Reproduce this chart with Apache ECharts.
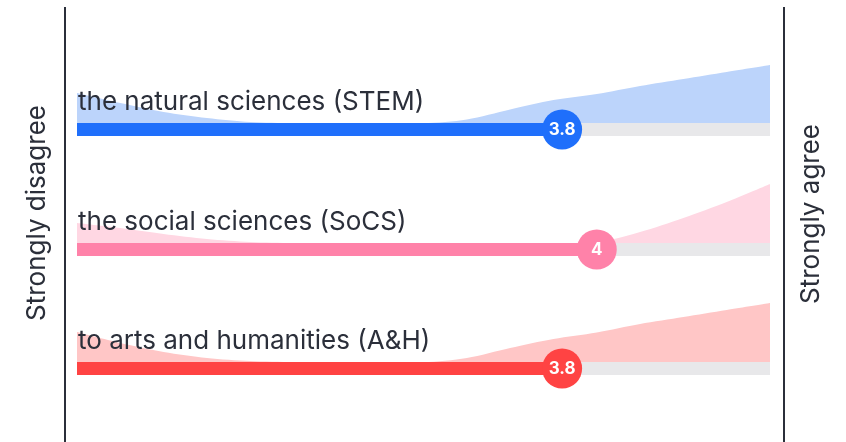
<!DOCTYPE html>
<html>
    <head>
        <meta charset="utf-8">
        <script src="https://cdn.jsdelivr.net/npm/echarts@6/dist/echarts.min.js"></script>
        <style>
            html, body { margin: 0; padding: 0; background: #fff; }
            #main { width: 846px; height: 442px; }
        </style>
    </head>
    <body>
        <div id="main"></div>
        <script>
            var chart = echarts.init(document.getElementById('main'));

            // answer scale 1 (strongly disagree) .. 5 (strongly agree)
            var scalePoints = [1, 1.25, 1.5, 1.75, 2, 2.25, 2.5, 2.75, 3, 3.25, 3.5, 3.75, 4, 4.25, 4.5, 4.75, 5];
            var categories = ['the natural sciences (STEM)', 'the social sciences (SoCS)', 'to arts and humanities (A&H)'];
            var means = [3.8, 4, 3.8];
            // response density along the scale (relative)
            var densityStem = [30, 20, 11, 5, 1, 0, 0, 0, 0, 3.5, 13.5, 23, 29, 37, 44, 51, 58];
            var densitySocs = [20, 15, 9, 4, 1, 0, 0, 0, 0, 0, 0, 0, 1, 11, 25, 41, 59];
            var densityAh = [30, 19, 10, 4, 1, 0, 0, 0, 0, 4, 14, 23, 29.5, 38, 45, 52, 59];
            var densities = [densityStem, densitySocs, densityAh];

            var barColors = ['#1f6ffb', '#ff82a9', '#ff4343'];
            var areaColors = ['#bcd4fb', '#ffd7e3', '#ffc6c6'];
            var rowTops = [63, 183, 302];
            var textColor = '#2b2f3a';
            var fontFamily = 'Inter, "Noto Sans", sans-serif';

            var grids = [], xAxes = [], yAxes = [], series = [], graphics = [];

            categories.forEach(function (name, i) {
                grids.push({ left: 77, right: 76, top: rowTops[i], height: 73 });
                xAxes.push({ gridIndex: i, type: 'value', min: 1, max: 5, show: false });
                yAxes.push({ gridIndex: i, type: 'value', min: -13, max: 60, show: false });

                series.push({
                    type: 'line',
                    xAxisIndex: i,
                    yAxisIndex: i,
                    data: scalePoints.map(function (x, k) { return [x, densities[i][k]]; }),
                    smooth: 0.3,
                    showSymbol: false,
                    lineStyle: { width: 0 },
                    areaStyle: { color: areaColors[i], opacity: 1, origin: 0 },
                    silent: true,
                    z: 1
                });
                // gray track
                series.push({
                    type: 'line',
                    xAxisIndex: i,
                    yAxisIndex: i,
                    data: [[1, -6.5], [5, -6.5]],
                    showSymbol: false,
                    lineStyle: { width: 13, color: '#e8e8ea', cap: 'butt' },
                    silent: true,
                    z: 2
                });
                // filled part up to the mean
                series.push({
                    type: 'line',
                    xAxisIndex: i,
                    yAxisIndex: i,
                    data: [[1, -6.5], [means[i], -6.5]],
                    showSymbol: false,
                    lineStyle: { width: 13, color: barColors[i], cap: 'butt' },
                    silent: true,
                    z: 3
                });
                series.push({
                    type: 'scatter',
                    xAxisIndex: i,
                    yAxisIndex: i,
                    data: [[means[i], -6.5]],
                    symbolSize: 40,
                    itemStyle: { color: barColors[i], opacity: 1 },
                    label: {
                        show: true,
                        position: 'inside',
                        formatter: function (p) { return p.value[0]; },
                        color: '#fff',
                        fontSize: 17,
                        fontWeight: 'bold',
                        fontFamily: fontFamily
                    },
                    silent: true,
                    z: 4
                });

                graphics.push({
                    type: 'text',
                    x: 78,
                    y: rowTops[i] + 39,
                    z: 10,
                    style: {
                        text: name,
                        fill: textColor,
                        font: '26px ' + fontFamily,
                        verticalAlign: 'middle'
                    }
                });
            });

            graphics.push(
                { type: 'line', z: 10, shape: { x1: 65, y1: 7, x2: 65, y2: 442 }, style: { stroke: textColor, lineWidth: 2 } },
                { type: 'line', z: 10, shape: { x1: 784, y1: 7, x2: 784, y2: 442 }, style: { stroke: textColor, lineWidth: 2 } },
                {
                    type: 'text', x: 37, y: 213, rotation: Math.PI / 2, z: 10,
                    style: { text: 'Strongly disagree', fill: textColor, font: '26px ' + fontFamily, align: 'center', verticalAlign: 'middle' }
                },
                {
                    type: 'text', x: 811, y: 214, rotation: Math.PI / 2, z: 10,
                    style: { text: 'Strongly agree', fill: textColor, font: '26px ' + fontFamily, align: 'center', verticalAlign: 'middle' }
                }
            );

            chart.setOption({
                animation: false,
                grid: grids,
                xAxis: xAxes,
                yAxis: yAxes,
                series: series,
                graphic: graphics
            });
        </script>
    </body>
</html>
